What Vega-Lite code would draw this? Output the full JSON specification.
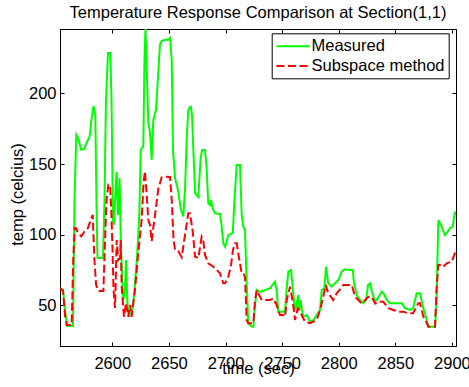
{
"$schema":"https://vega.github.io/schema/vega-lite/v6.json",
"width":396,"height":317,
"autosize":{"type":"none"},
"padding":{"left":60,"top":29,"right":13,"bottom":41},
"background":"white",
"title":{"text":"Temperature Response Comparison at Section(1,1)","font":"Liberation Sans","fontSize":16.5,"fontWeight":"normal","color":"black","baseline":"bottom","offset":-9,"anchor":"middle"},
"config":{
 "view":{"stroke":"black","strokeWidth":1},
 "axis":{"labelFont":"Liberation Sans","labelFontSize":16.5,"labelColor":"black","titleFont":"Liberation Sans","titleFontSize":16.5,"titleFontWeight":"normal","titleColor":"black","domainColor":"black","domainWidth":1,"tickColor":"black","tickWidth":1,"grid":false,"tickSize":-4,"format":"d"},
 "legend":{"orient":"none","legendX":211.7,"legendY":4.3,"fillColor":"white","strokeColor":"black","padding":3.5,"labelFont":"Liberation Sans","labelFontSize":16.5,"labelColor":"black","symbolType":"M-1,0H3","symbolSize":272,"symbolStrokeWidth":2,"labelOffset":17.3,"rowPadding":1.7,"title":null}
},
"data":{"values":[
{"t":2553.8,"v":62.3,"s":"Measured"},{"t":2556.5,"v":61,"s":"Measured"},{"t":2558.2,"v":47,"s":"Measured"},{"t":2560.0,"v":35.5,"s":"Measured"},{"t":2565.3,"v":35.5,"s":"Measured"},{"t":2566.6,"v":124.6,"s":"Measured"},{"t":2568.2,"v":170.7,"s":"Measured"},{"t":2569.7,"v":168.4,"s":"Measured"},{"t":2572.6,"v":160.1,"s":"Measured"},{"t":2575.0,"v":160.6,"s":"Measured"},{"t":2577.7,"v":165.6,"s":"Measured"},{"t":2580.0,"v":169.6,"s":"Measured"},{"t":2581.5,"v":181.1,"s":"Measured"},{"t":2583.4,"v":191,"s":"Measured"},{"t":2585.0,"v":184.7,"s":"Measured"},{"t":2586.0,"v":124.6,"s":"Measured"},{"t":2586.9,"v":83.5,"s":"Measured"},{"t":2591.8,"v":83.5,"s":"Measured"},{"t":2593.1,"v":124.6,"s":"Measured"},{"t":2594.4,"v":195.3,"s":"Measured"},{"t":2596.2,"v":228.5,"s":"Measured"},{"t":2598.2,"v":228.5,"s":"Measured"},{"t":2599.3,"v":195.3,"s":"Measured"},{"t":2600.6,"v":110.4,"s":"Measured"},{"t":2601.5,"v":107,"s":"Measured"},{"t":2603.7,"v":144.4,"s":"Measured"},{"t":2605.0,"v":114,"s":"Measured"},{"t":2606.4,"v":140.1,"s":"Measured"},{"t":2607.7,"v":89.2,"s":"Measured"},{"t":2609.7,"v":53.8,"s":"Measured"},{"t":2611.2,"v":60.9,"s":"Measured"},{"t":2612.1,"v":82.1,"s":"Measured"},{"t":2613.4,"v":50.3,"s":"Measured"},{"t":2614.8,"v":43.2,"s":"Measured"},{"t":2617.4,"v":45.4,"s":"Measured"},{"t":2619.2,"v":56.7,"s":"Measured"},{"t":2622.1,"v":87.1,"s":"Measured"},{"t":2623.9,"v":115.4,"s":"Measured"},{"t":2625.1,"v":160,"s":"Measured"},{"t":2627.4,"v":162.8,"s":"Measured"},{"t":2628.4,"v":223.6,"s":"Measured"},{"t":2629.3,"v":246,"s":"Measured"},{"t":2630.2,"v":223.6,"s":"Measured"},{"t":2631.8,"v":179.7,"s":"Measured"},{"t":2633.3,"v":172,"s":"Measured"},{"t":2634.8,"v":152.9,"s":"Measured"},{"t":2636.2,"v":181.1,"s":"Measured"},{"t":2638.6,"v":188.2,"s":"Measured"},{"t":2642.1,"v":234.4,"s":"Measured"},{"t":2643.6,"v":237,"s":"Measured"},{"t":2646.6,"v":237.9,"s":"Measured"},{"t":2649.2,"v":237.7,"s":"Measured"},{"t":2651.0,"v":239.1,"s":"Measured"},{"t":2652.5,"v":223.6,"s":"Measured"},{"t":2653.6,"v":159.9,"s":"Measured"},{"t":2655.4,"v":140.1,"s":"Measured"},{"t":2658.0,"v":131.6,"s":"Measured"},{"t":2660.7,"v":117.5,"s":"Measured"},{"t":2662.7,"v":113,"s":"Measured"},{"t":2664.2,"v":131.6,"s":"Measured"},{"t":2665.7,"v":167,"s":"Measured"},{"t":2667.1,"v":188.2,"s":"Measured"},{"t":2668.6,"v":190.3,"s":"Measured"},{"t":2669.5,"v":190.5,"s":"Measured"},{"t":2670.4,"v":184.7,"s":"Measured"},{"t":2671.6,"v":159.9,"s":"Measured"},{"t":2673.1,"v":129.3,"s":"Measured"},{"t":2676.0,"v":126.7,"s":"Measured"},{"t":2677.9,"v":152.9,"s":"Measured"},{"t":2679.2,"v":159.9,"s":"Measured"},{"t":2681.9,"v":159.9,"s":"Measured"},{"t":2683.4,"v":145.8,"s":"Measured"},{"t":2684.8,"v":122.2,"s":"Measured"},{"t":2686.3,"v":121,"s":"Measured"},{"t":2687.2,"v":124.6,"s":"Measured"},{"t":2688.5,"v":118.9,"s":"Measured"},{"t":2690.7,"v":115.2,"s":"Measured"},{"t":2695.1,"v":114.7,"s":"Measured"},{"t":2696.5,"v":106.9,"s":"Measured"},{"t":2698.1,"v":93.9,"s":"Measured"},{"t":2699.6,"v":91.5,"s":"Measured"},{"t":2701.3,"v":96.3,"s":"Measured"},{"t":2702.5,"v":99.8,"s":"Measured"},{"t":2706.4,"v":101.2,"s":"Measured"},{"t":2707.9,"v":124.6,"s":"Measured"},{"t":2709.9,"v":149.3,"s":"Measured"},{"t":2712.8,"v":149.3,"s":"Measured"},{"t":2714.3,"v":113.9,"s":"Measured"},{"t":2715.7,"v":105.7,"s":"Measured"},{"t":2717.2,"v":103.3,"s":"Measured"},{"t":2718.6,"v":68,"s":"Measured"},{"t":2720.1,"v":37.4,"s":"Measured"},{"t":2723.2,"v":35,"s":"Measured"},{"t":2724.6,"v":35,"s":"Measured"},{"t":2725.6,"v":46.8,"s":"Measured"},{"t":2727.6,"v":60.9,"s":"Measured"},{"t":2730.5,"v":59.5,"s":"Measured"},{"t":2734.9,"v":60.9,"s":"Measured"},{"t":2739.3,"v":62.1,"s":"Measured"},{"t":2743.7,"v":66.8,"s":"Measured"},{"t":2745.2,"v":60.9,"s":"Measured"},{"t":2746.6,"v":45.6,"s":"Measured"},{"t":2752.6,"v":45.6,"s":"Measured"},{"t":2753.9,"v":60.9,"s":"Measured"},{"t":2755.5,"v":73.9,"s":"Measured"},{"t":2757.9,"v":75.1,"s":"Measured"},{"t":2759.6,"v":60.9,"s":"Measured"},{"t":2761.4,"v":46.8,"s":"Measured"},{"t":2762.7,"v":50.3,"s":"Measured"},{"t":2764.3,"v":57.4,"s":"Measured"},{"t":2765.4,"v":46.8,"s":"Measured"},{"t":2766.3,"v":53.8,"s":"Measured"},{"t":2767.6,"v":46.8,"s":"Measured"},{"t":2768.7,"v":42,"s":"Measured"},{"t":2771.7,"v":43.2,"s":"Measured"},{"t":2774.7,"v":38.5,"s":"Measured"},{"t":2777.6,"v":39.7,"s":"Measured"},{"t":2780.6,"v":43.2,"s":"Measured"},{"t":2783.5,"v":46.8,"s":"Measured"},{"t":2785.0,"v":60.9,"s":"Measured"},{"t":2787.3,"v":62.1,"s":"Measured"},{"t":2788.8,"v":77.4,"s":"Measured"},{"t":2790.8,"v":65.7,"s":"Measured"},{"t":2793.8,"v":63.3,"s":"Measured"},{"t":2796.7,"v":65.7,"s":"Measured"},{"t":2799.7,"v":68,"s":"Measured"},{"t":2802.6,"v":73.9,"s":"Measured"},{"t":2805.6,"v":75.6,"s":"Measured"},{"t":2809.1,"v":75.1,"s":"Measured"},{"t":2812.4,"v":75.1,"s":"Measured"},{"t":2813.5,"v":65.9,"s":"Measured"},{"t":2815.9,"v":57.4,"s":"Measured"},{"t":2818.8,"v":53.8,"s":"Measured"},{"t":2821.7,"v":51.5,"s":"Measured"},{"t":2824.1,"v":53.8,"s":"Measured"},{"t":2825.9,"v":64.5,"s":"Measured"},{"t":2827.7,"v":65.7,"s":"Measured"},{"t":2829.4,"v":59.5,"s":"Measured"},{"t":2832.1,"v":52.6,"s":"Measured"},{"t":2834.7,"v":55.3,"s":"Measured"},{"t":2838.0,"v":59.7,"s":"Measured"},{"t":2840.0,"v":58.1,"s":"Measured"},{"t":2842.4,"v":53.8,"s":"Measured"},{"t":2845.3,"v":51.5,"s":"Measured"},{"t":2855.7,"v":51.5,"s":"Measured"},{"t":2858.6,"v":48,"s":"Measured"},{"t":2863.0,"v":46.8,"s":"Measured"},{"t":2865.6,"v":48,"s":"Measured"},{"t":2868.9,"v":58.6,"s":"Measured"},{"t":2871.8,"v":58.6,"s":"Measured"},{"t":2874.8,"v":48,"s":"Measured"},{"t":2877.8,"v":39.7,"s":"Measured"},{"t":2879.2,"v":35,"s":"Measured"},{"t":2885.1,"v":35,"s":"Measured"},{"t":2886.4,"v":53.8,"s":"Measured"},{"t":2888.0,"v":110.4,"s":"Measured"},{"t":2891.0,"v":105.7,"s":"Measured"},{"t":2893.9,"v":99.8,"s":"Measured"},{"t":2895.7,"v":101.5,"s":"Measured"},{"t":2898.3,"v":104.6,"s":"Measured"},{"t":2900.7,"v":105.7,"s":"Measured"},{"t":2902.7,"v":116.3,"s":"Measured"},{"t":2903.6,"v":114,"s":"Measured"},
{"t":2553.8,"v":62.3,"s":"Subspace method"},{"t":2556.5,"v":60.2,"s":"Subspace method"},{"t":2558.2,"v":43.2,"s":"Subspace method"},{"t":2559.7,"v":36.2,"s":"Subspace method"},{"t":2564.1,"v":36.2,"s":"Subspace method"},{"t":2565.5,"v":82.1,"s":"Subspace method"},{"t":2566.8,"v":104.8,"s":"Subspace method"},{"t":2567.9,"v":104.6,"s":"Subspace method"},{"t":2569.7,"v":101.2,"s":"Subspace method"},{"t":2571.5,"v":99.8,"s":"Subspace method"},{"t":2572.6,"v":98.9,"s":"Subspace method"},{"t":2575.0,"v":101.9,"s":"Subspace method"},{"t":2578.5,"v":104.8,"s":"Subspace method"},{"t":2581.5,"v":111.8,"s":"Subspace method"},{"t":2582.7,"v":114,"s":"Subspace method"},{"t":2584.2,"v":82.1,"s":"Subspace method"},{"t":2585.7,"v":64.5,"s":"Subspace method"},{"t":2587.7,"v":60.2,"s":"Subspace method"},{"t":2592.1,"v":60.2,"s":"Subspace method"},{"t":2593.6,"v":96.3,"s":"Subspace method"},{"t":2594.9,"v":124.6,"s":"Subspace method"},{"t":2596.5,"v":135.4,"s":"Subspace method"},{"t":2598.0,"v":135.2,"s":"Subspace method"},{"t":2599.1,"v":117.5,"s":"Subspace method"},{"t":2600.2,"v":89.2,"s":"Subspace method"},{"t":2601.1,"v":60.9,"s":"Subspace method"},{"t":2602.4,"v":48.2,"s":"Subspace method"},{"t":2603.9,"v":96.3,"s":"Subspace method"},{"t":2605.3,"v":82.1,"s":"Subspace method"},{"t":2606.8,"v":83.5,"s":"Subspace method"},{"t":2607.4,"v":96.3,"s":"Subspace method"},{"t":2608.3,"v":63,"s":"Subspace method"},{"t":2610.3,"v":42,"s":"Subspace method"},{"t":2612.1,"v":51.7,"s":"Subspace method"},{"t":2614.1,"v":42,"s":"Subspace method"},{"t":2615.6,"v":50.3,"s":"Subspace method"},{"t":2617.1,"v":42,"s":"Subspace method"},{"t":2620.0,"v":60.9,"s":"Subspace method"},{"t":2622.9,"v":86.9,"s":"Subspace method"},{"t":2625.9,"v":110.4,"s":"Subspace method"},{"t":2627.5,"v":135,"s":"Subspace method"},{"t":2628.8,"v":144.9,"s":"Subspace method"},{"t":2630.3,"v":129.3,"s":"Subspace method"},{"t":2631.8,"v":110.4,"s":"Subspace method"},{"t":2633.3,"v":107.1,"s":"Subspace method"},{"t":2634.8,"v":95.4,"s":"Subspace method"},{"t":2636.2,"v":104.8,"s":"Subspace method"},{"t":2637.7,"v":113.3,"s":"Subspace method"},{"t":2640.6,"v":132.4,"s":"Subspace method"},{"t":2643.6,"v":140.6,"s":"Subspace method"},{"t":2646.6,"v":141.1,"s":"Subspace method"},{"t":2651.0,"v":140.8,"s":"Subspace method"},{"t":2652.5,"v":124.6,"s":"Subspace method"},{"t":2654.1,"v":96.3,"s":"Subspace method"},{"t":2655.4,"v":89.4,"s":"Subspace method"},{"t":2658.3,"v":88.5,"s":"Subspace method"},{"t":2661.3,"v":84.1,"s":"Subspace method"},{"t":2664.2,"v":99.8,"s":"Subspace method"},{"t":2667.1,"v":115.2,"s":"Subspace method"},{"t":2668.6,"v":115.2,"s":"Subspace method"},{"t":2670.9,"v":103.3,"s":"Subspace method"},{"t":2673.1,"v":84.5,"s":"Subspace method"},{"t":2676.0,"v":83.5,"s":"Subspace method"},{"t":2678.9,"v":98.6,"s":"Subspace method"},{"t":2680.3,"v":96.3,"s":"Subspace method"},{"t":2681.9,"v":85.7,"s":"Subspace method"},{"t":2684.8,"v":79.8,"s":"Subspace method"},{"t":2689.2,"v":77.4,"s":"Subspace method"},{"t":2692.2,"v":75.1,"s":"Subspace method"},{"t":2695.1,"v":72.7,"s":"Subspace method"},{"t":2698.1,"v":65.7,"s":"Subspace method"},{"t":2699.6,"v":65.7,"s":"Subspace method"},{"t":2702.5,"v":70.3,"s":"Subspace method"},{"t":2704.9,"v":78.6,"s":"Subspace method"},{"t":2706.6,"v":89.2,"s":"Subspace method"},{"t":2708.4,"v":93.9,"s":"Subspace method"},{"t":2709.9,"v":93.9,"s":"Subspace method"},{"t":2711.5,"v":85.7,"s":"Subspace method"},{"t":2714.3,"v":72.7,"s":"Subspace method"},{"t":2715.7,"v":72.7,"s":"Subspace method"},{"t":2717.2,"v":70.3,"s":"Subspace method"},{"t":2718.7,"v":39.7,"s":"Subspace method"},{"t":2720.1,"v":37.4,"s":"Subspace method"},{"t":2724.6,"v":37.4,"s":"Subspace method"},{"t":2726.1,"v":53.8,"s":"Subspace method"},{"t":2727.6,"v":60.9,"s":"Subspace method"},{"t":2732.0,"v":53.8,"s":"Subspace method"},{"t":2739.3,"v":53.8,"s":"Subspace method"},{"t":2742.2,"v":55,"s":"Subspace method"},{"t":2745.2,"v":50.3,"s":"Subspace method"},{"t":2748.1,"v":43.2,"s":"Subspace method"},{"t":2751.0,"v":43.2,"s":"Subspace method"},{"t":2752.6,"v":42,"s":"Subspace method"},{"t":2754.1,"v":53.8,"s":"Subspace method"},{"t":2757.0,"v":63.3,"s":"Subspace method"},{"t":2759.4,"v":52.6,"s":"Subspace method"},{"t":2761.4,"v":39.7,"s":"Subspace method"},{"t":2763.8,"v":48,"s":"Subspace method"},{"t":2765.8,"v":45.6,"s":"Subspace method"},{"t":2770.2,"v":38.5,"s":"Subspace method"},{"t":2774.7,"v":37.4,"s":"Subspace method"},{"t":2780.6,"v":39.7,"s":"Subspace method"},{"t":2783.5,"v":46.8,"s":"Subspace method"},{"t":2786.4,"v":56.2,"s":"Subspace method"},{"t":2788.5,"v":64.5,"s":"Subspace method"},{"t":2790.8,"v":58.6,"s":"Subspace method"},{"t":2795.2,"v":53.8,"s":"Subspace method"},{"t":2798.2,"v":58.6,"s":"Subspace method"},{"t":2802.0,"v":62.1,"s":"Subspace method"},{"t":2804.1,"v":64.5,"s":"Subspace method"},{"t":2811.5,"v":64.5,"s":"Subspace method"},{"t":2814.4,"v":56.2,"s":"Subspace method"},{"t":2820.3,"v":51.3,"s":"Subspace method"},{"t":2826.2,"v":56.2,"s":"Subspace method"},{"t":2829.2,"v":56.2,"s":"Subspace method"},{"t":2832.1,"v":51.3,"s":"Subspace method"},{"t":2836.5,"v":52.6,"s":"Subspace method"},{"t":2839.4,"v":52.6,"s":"Subspace method"},{"t":2843.8,"v":48,"s":"Subspace method"},{"t":2848.2,"v":46.8,"s":"Subspace method"},{"t":2852.6,"v":45.6,"s":"Subspace method"},{"t":2857.1,"v":45.6,"s":"Subspace method"},{"t":2861.5,"v":44.4,"s":"Subspace method"},{"t":2865.6,"v":44.4,"s":"Subspace method"},{"t":2870.3,"v":51.5,"s":"Subspace method"},{"t":2871.8,"v":51.5,"s":"Subspace method"},{"t":2874.8,"v":42,"s":"Subspace method"},{"t":2877.8,"v":37.4,"s":"Subspace method"},{"t":2879.2,"v":35,"s":"Subspace method"},{"t":2885.1,"v":35,"s":"Subspace method"},{"t":2886.4,"v":60.9,"s":"Subspace method"},{"t":2888.0,"v":78.6,"s":"Subspace method"},{"t":2891.0,"v":78.6,"s":"Subspace method"},{"t":2892.4,"v":77.4,"s":"Subspace method"},{"t":2895.4,"v":79.8,"s":"Subspace method"},{"t":2899.8,"v":81,"s":"Subspace method"},{"t":2902.7,"v":86.9,"s":"Subspace method"},{"t":2903.6,"v":87,"s":"Subspace method"}
]},
"layer":[
 {"mark":{"type":"line","clip":true,"strokeWidth":2},
  "encoding":{
   "x":{"field":"t","type":"quantitative","scale":{"domain":[2553.8,2903.6],"nice":false,"zero":false},
        "axis":{"orient":"bottom","values":[2600,2650,2700,2750,2800,2850,2900],"title":"time (sec)","labelPadding":13,"titleBaseline":"alphabetic","titleY":27.3}},
   "y":{"field":"v","type":"quantitative","scale":{"domain":[21.3,245.5],"nice":false,"zero":false},
        "axis":{"orient":"left","values":[50,100,150,200],"title":"temp (celcius)","labelPadding":8,"titleBaseline":"alphabetic","titleX":-37.5,"titleY":165}},
   "color":{"field":"s","type":"nominal","scale":{"domain":["Measured","Subspace method"],"range":["#00ff00","#ff0000"]},"legend":{"title":null}},
   "strokeDash":{"field":"s","type":"nominal","scale":{"domain":["Measured","Subspace method"],"range":[[1,0],[8,3.5]]},"legend":{"title":null}}
  }},
 {"mark":{"type":"point","opacity":0,"clip":true},
  "encoding":{
   "x":{"field":"t","type":"quantitative","axis":{"orient":"top","values":[2600,2650,2700,2750,2800,2850,2900],"labels":false,"title":null}},
   "y":{"field":"v","type":"quantitative","axis":{"orient":"right","values":[50,100,150,200],"labels":false,"title":null}}
  }}
],
"resolve":{"axis":{"x":"independent","y":"independent"}}
}
